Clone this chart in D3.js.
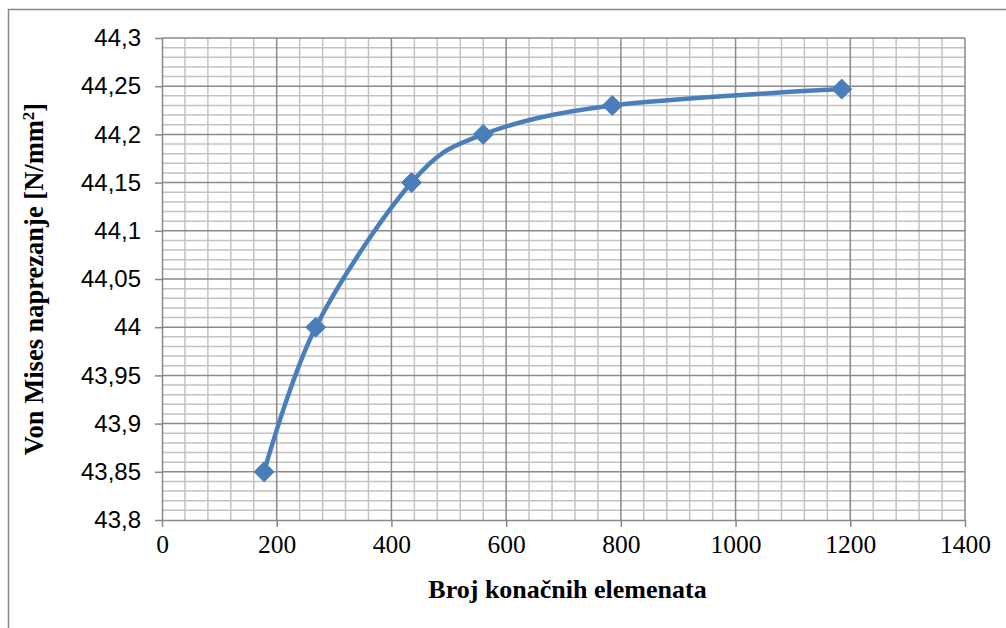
<!DOCTYPE html>
<html><head><meta charset="utf-8">
<script src="https://cdn.jsdelivr.net/npm/d3@7"></script>
<style>body{margin:0;background:#fff}svg{display:block}</style>
</head><body>
<script>
const elements = [178, 268, 435, 560, 785, 1185];
const stress = [43.85, 44.0, 44.15, 44.2, 44.23, 44.247];
const xTicks = [0, 200, 400, 600, 800, 1000, 1200, 1400];
const yTicks = [43.8, 43.85, 43.9, 43.95, 44.0, 44.05, 44.1, 44.15, 44.2, 44.25, 44.3];
const yTickLabels = ["43,8","43,85","43,9","43,95","44","44,05","44,1","44,15","44,2","44,25","44,3"];
const xTitle = "Broj konačnih elemenata";
const yTitle = "Von Mises naprezanje [N/mm";

const W = 1006, H = 628;
const L = 162, R = 965, T = 38, B = 520;
const SERIF = "'Liberation Serif', 'Times New Roman', serif";
const SANS = "'Liberation Sans', Arial, sans-serif";
const svg = d3.select("body").append("svg").attr("width", W).attr("height", H);
svg.append("rect").attr("x", 8.5).attr("y", 9.5).attr("width", 1100).attr("height", 800)
  .attr("fill", "none").attr("stroke", "#888").attr("stroke-width", 1.5);

const x = d3.scaleLinear().domain([0, 1400]).range([L, R]);
const y = d3.scaleLinear().domain([43.8, 44.3]).range([B, T]);

const g = svg.append("g");
const minorX = d3.range(0, 1401, 40).filter(v => v % 200 !== 0);
const minorY = d3.range(0, 51).map(i => 43.8 + i * 0.01).filter((v, i) => i % 5 !== 0);
g.selectAll(".mx").data(minorX).join("line")
  .attr("x1", d => x(d)).attr("x2", d => x(d)).attr("y1", T).attr("y2", B)
  .attr("stroke", "#c3c3c3").attr("stroke-width", 1.5);
g.selectAll(".my").data(minorY).join("line")
  .attr("x1", L).attr("x2", R).attr("y1", d => y(d)).attr("y2", d => y(d))
  .attr("stroke", "#c3c3c3").attr("stroke-width", 1.5);
g.selectAll(".Mx").data(xTicks.slice(1)).join("line")
  .attr("x1", d => x(d)).attr("x2", d => x(d)).attr("y1", T).attr("y2", B)
  .attr("stroke", "#8a8a8a").attr("stroke-width", 1.5);
g.selectAll(".My").data(yTicks.slice(1)).join("line")
  .attr("x1", L).attr("x2", R).attr("y1", d => y(d)).attr("y2", d => y(d))
  .attr("stroke", "#8a8a8a").attr("stroke-width", 1.5);

const xAxis = d3.axisBottom(x).tickValues(xTicks).tickSize(7).tickSizeOuter(0).tickPadding(8)
  .tickFormat(d3.format("d"));
const yAxis = d3.axisLeft(y).tickValues(yTicks).tickSize(7).tickSizeOuter(0).tickPadding(14)
  .tickFormat((d, i) => yTickLabels[i]);
const xa = svg.append("g").attr("transform", `translate(0,${B})`).call(xAxis).attr("font-family", null);
const ya = svg.append("g").attr("transform", `translate(${L},0)`).call(yAxis).attr("font-family", null);
[xa, ya].forEach(a => {
  a.select(".domain").attr("stroke", "#888").attr("stroke-width", 1.5);
  a.selectAll(".tick line").attr("stroke", "#888").attr("stroke-width", 1.5);
});
xa.selectAll("text").style("font-family", SERIF).style("font-size", "25.5px").attr("fill", "#000");
ya.selectAll("text").style("font-family", SANS).style("font-size", "24px").attr("fill", "#000");

const line = d3.line().x((d, i) => x(elements[i])).y(d => y(d)).curve(d3.curveCardinal.tension(0));
svg.append("path").datum(stress).attr("d", line).attr("fill", "none")
  .attr("stroke", "#4a7ebb").attr("stroke-width", 4.5).attr("stroke-linejoin", "round");
svg.selectAll(".mk").data(stress).join("path")
  .attr("d", "M0,-10L10,0L0,10L-10,0Z")
  .attr("transform", (d, i) => `translate(${x(elements[i])},${y(d)})`)
  .attr("fill", "#4a7ebb").attr("stroke", "#4a7ebb").attr("stroke-width", 1);

svg.append("text").attr("x", (L + R) / 2 + 4).attr("y", 598).attr("text-anchor", "middle")
  .style("font-family", SERIF).attr("font-weight", "bold")
  .style("font-size", "26px").text(xTitle);
const yt = svg.append("text").attr("transform", `translate(43,${(T + B) / 2}) rotate(-90)`)
  .attr("text-anchor", "middle")
  .style("font-family", SERIF).attr("font-weight", "bold")
  .style("font-size", "26.5px");
yt.append("tspan").text(yTitle);
yt.append("tspan").style("font-size", "17px").attr("dy", -9).text("2");
yt.append("tspan").attr("dy", 9).text("]");
</script>
</body></html>
